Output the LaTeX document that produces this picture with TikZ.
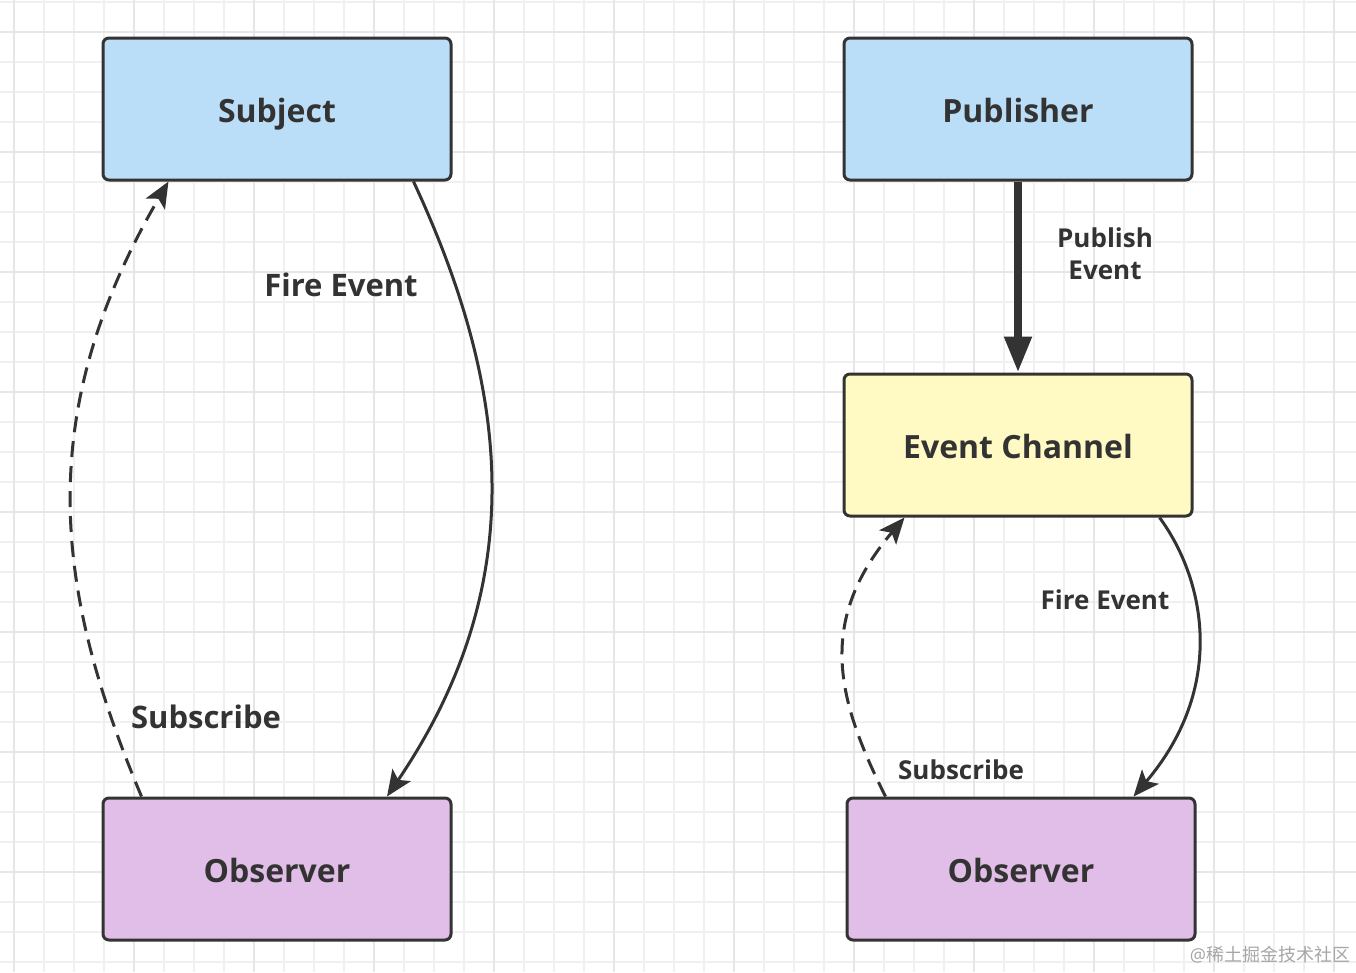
\documentclass[tikz,border=0pt]{standalone}
\usepackage{fontspec}
\setmainfont{Open Sans}
\newfontfamily\cjkfont{Noto Sans CJK SC}
\usetikzlibrary{arrows.meta,positioning}
\definecolor{inkgray}{HTML}{333333}
\definecolor{subjblue}{HTML}{BBDEF8}
\definecolor{chanyellow}{HTML}{FFF9C4}
\definecolor{obspurple}{HTML}{E1BEE7}
\definecolor{gridminor}{HTML}{F0F0F0}
\definecolor{gridmajor}{HTML}{E6E6E6}
\tikzset{
  box/.style={draw=inkgray, line width=3pt, rounded corners=6pt,
    minimum width=348pt, minimum height=142pt, inner sep=0pt,
    text height=26pt, text depth=0pt,
    font=\fontsize{32}{38}\selectfont\bfseries, text=inkgray},
  lbl/.style={font=\fontsize{31}{36}\selectfont\bfseries, text=inkgray, inner sep=0pt},
  smalllbl/.style={lbl, font=\fontsize{26}{32}\selectfont\bfseries, align=center},
  flow/.style={draw=inkgray, line width=3pt, -{Stealth[length=26pt,width=22pt,inset=6pt]}},
  subflow/.style={flow, dash pattern=on 16pt off 9pt},
}
\begin{document}
\begin{tikzpicture}[x=1pt, y=-1pt]
  \useasboundingbox (0,0) rectangle (1356,972);
  \fill[white] (0,0) rectangle (1356,972);

  % Grid
  \foreach \gx in {14,44,...,1356} \draw[gridminor, line width=1.5pt] (\gx,0) -- (\gx,972);
  \foreach \gy in {2,32,...,972} \draw[gridminor, line width=1.5pt] (0,\gy) -- (1356,\gy);
  \foreach \gx in {14,134,...,1356} \draw[gridmajor, line width=2pt] (\gx,0) -- (\gx,972);
  \foreach \gy in {32,152,...,972} \draw[gridmajor, line width=2pt] (0,\gy) -- (1356,\gy);

  % Nodes
  \node[box, fill=subjblue]               (subjA)  at (277,109) {Subject};
  \node[box, fill=obspurple]              (obsA)   at (277,869) {Observer};
  \node[box, fill=subjblue]               (pubB)   at (1018,109) {Publisher};
  \node[box, fill=chanyellow, below=191pt of pubB] (chanB) {Event Channel};
  \node[box, fill=obspurple]              (obsB)   at (1021,869) {Observer};

  % Edges
  \draw[flow] ([xshift=-39pt]subjA.south east)
    .. controls +(93,200) and +(148,-218) .. ([xshift=110pt]obsA.north);
  \node[lbl] (fireA) at (341,285) {Fire Event};
  \draw[subflow] ([xshift=40pt]obsA.north west)
    .. controls +(-83,-198) and +(-140,240) .. ([xshift=67pt]subjA.south west);
  \node[lbl] (subA) at (206,717) {Subscribe};

  \draw[draw=inkgray, line width=8pt, -{Triangle[length=36pt,width=26pt]}]
    (pubB.south) -- (chanB.north);
  \node[smalllbl] (pubEv) at (1105,254) {Publish\\Event};

  \draw[flow] ([xshift=-34pt]chanB.south east)
    .. controls +(47,64) and +(92,-108) .. ([xshift=-63pt]obsB.north east);
  \node[smalllbl] (fireB) at (1105,600) {Fire Event};
  \draw[subflow] ([xshift=40pt]obsB.north west)
    .. controls +(-49,-98) and +(-88,104) .. ([xshift=62pt]chanB.south west);
  \node[smalllbl] (subB) at (961,770) {Subscribe};

  % Watermark
  \node[text=black!35, font=\fontsize{18}{20}\selectfont] (mark) at (1270,955) {@\cjkfont 稀土掘金技术社区};
\end{tikzpicture}
\end{document}
